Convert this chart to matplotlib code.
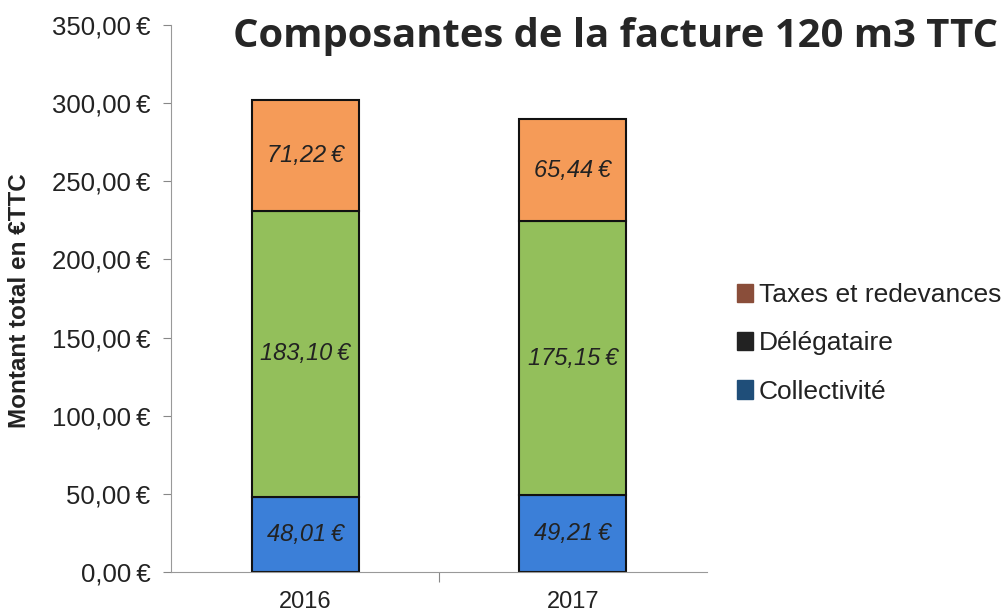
import numpy as np
import matplotlib.pyplot as plt
from matplotlib.patches import Patch
from matplotlib.ticker import FuncFormatter

annees = ['2016', '2017']
collectivite = [48.01, 49.21]
delegataire = [183.10, 175.15]
taxes = [71.22, 65.44]

fig = plt.figure(figsize=(10.08, 6.13), dpi=100)
ax = fig.add_axes([0.170, 0.067, 0.531, 0.892])

x = np.arange(len(annees))
w = 0.40
c_bleu = '#3b7fd8'
c_vert = '#93bf5b'
c_orange = '#f59b58'

ax.bar(x, collectivite, w, color=c_bleu, edgecolor='#111111', linewidth=1.5)
ax.bar(x, delegataire, w, bottom=collectivite, color=c_vert, edgecolor='#111111', linewidth=1.5)
bas_taxes = np.array(collectivite) + np.array(delegataire)
ax.bar(x, taxes, w, bottom=bas_taxes, color=c_orange, edgecolor='#111111', linewidth=1.5)

def euro(v):
    return ('%.2f' % v).replace('.', ',') + '\u2009€'

for i in range(len(annees)):
    ax.text(x[i], collectivite[i] / 2, euro(collectivite[i]), ha='center', va='center',
            fontsize=17, style='italic', color='#222222', family='Liberation Sans')
    ax.text(x[i], collectivite[i] + delegataire[i] / 2, euro(delegataire[i]), ha='center', va='center',
            fontsize=17, style='italic', color='#222222', family='Liberation Sans')
    ax.text(x[i], bas_taxes[i] + taxes[i] / 2, euro(taxes[i]), ha='center', va='center',
            fontsize=17, style='italic', color='#222222', family='Liberation Sans')

ax.set_xlim(-0.5, 1.5)
ax.set_ylim(0, 350)
ax.set_yticks(np.arange(0, 351, 50))
ax.yaxis.set_major_formatter(FuncFormatter(lambda v, p: euro(v)))
ax.set_xticks([0.5])
ax.set_xticklabels([''])
ax.tick_params(axis='x', length=7, color='#888888')
ax.tick_params(axis='y', length=6, color='#888888', labelsize=18.5, labelcolor='#222222', pad=9)
for t in ax.get_yticklabels():
    t.set_family('Liberation Sans')
for xi, lab in zip(x, annees):
    ax.text(xi, -12, lab, ha='center', va='top', fontsize=17, color='#222222',
            family='Liberation Sans', transform=ax.transData, clip_on=False)

ax.spines['top'].set_visible(False)
ax.spines['right'].set_visible(False)
ax.spines['left'].set_color('#999999')
ax.spines['bottom'].set_color('#999999')

ax.set_ylabel('Montant total en €TTC', fontsize=17.5, fontweight='bold', color='#222222',
              family='Liberation Sans')
ax.yaxis.set_label_coords(-0.262, 0.497)

fig.text(0.611, 0.94, 'Composantes de la facture 120 m3 TTC', ha='center', va='center',
         fontsize=28.8, fontweight='bold', color='#262626', family='Open Sans')

handles = [Patch(color='#8a4e3a', label='Taxes et redevances'),
           Patch(color='#222222', label='Délégataire'),
           Patch(color='#1f4e79', label='Collectivité')]
leg = fig.legend(handles=handles, loc='center left', bbox_to_anchor=(0.708, 0.44),
                 frameon=False, handlelength=0.6, handleheight=0.7,
                 handletextpad=0.2, labelspacing=0.92,
                 prop={'family': 'Liberation Sans', 'size': 19})
for t in leg.get_texts():
    t.set_color('#222222')

fig.savefig('out.png', dpi=100)
